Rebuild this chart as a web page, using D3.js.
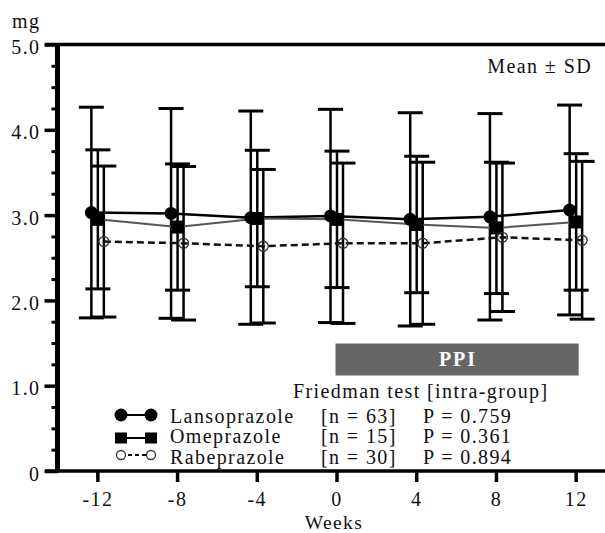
<!DOCTYPE html>
<html><head><meta charset="utf-8">
<script src="https://cdn.jsdelivr.net/npm/d3@7"></script>
<style>
body{margin:0;background:#fff;}
svg text{font-family:"Liberation Serif","Times New Roman",Times,"DejaVu Serif",serif !important;font-size:20px;letter-spacing:1.4px;fill:#111;}
</style></head>
<body><svg id="c" width="605" height="533"></svg>
<script>
const weeks = [-12, -8, -4, 0, 4, 8, 12];
const lansoMean = [3.03, 3.02, 2.97, 2.99, 2.95, 2.98, 3.06];
const lansoSD   = [1.235, 1.23, 1.25, 1.25, 1.25, 1.21, 1.23];
const omeMean   = [2.95, 2.86, 2.96, 2.95, 2.89, 2.85, 2.92];
const omeSD     = [0.815, 0.74, 0.80, 0.80, 0.80, 0.77, 0.80];
const rabeMean  = [2.69, 2.67, 2.635, 2.67, 2.67, 2.74, 2.705];
const rabeSD    = [0.885, 0.90, 0.90, 0.94, 0.95, 0.87, 0.925];
const seriesNames = ["Lansoprazole", "Omeprazole", "Rabeprazole"];
const seriesN = ["[n = 63]", "[n = 15]", "[n = 30]"];
const seriesP = ["P = 0.759", "P = 0.361", "P = 0.894"];
const yTickValues = [0, 1, 2, 3, 4, 5];
const yTickLabels = ["0", "1.0", "2.0", "3.0", "4.0", "5.0"];
const xTickLabels = ["-12", "-8", "-4", "0", "4", "8", "12"];
const ppiRange = [0, 12.15];

const FONT = '"Liberation Serif","Times New Roman",Times,"DejaVu Serif",serif';
const svg = d3.select("#c");
const x = d3.scaleLinear().domain([-14, 14]).range([57.5, 615.5]);
const y = d3.scaleLinear().domain([0, 5]).range([471, 44.5]);

svg.append("line").attr("x1", 45).attr("x2", 605).attr("y1", y(5)).attr("y2", y(5))
  .attr("stroke", "#000").attr("stroke-width", 3.5);

const minor = d3.range(0, 5.001, 0.25).filter(v => Math.abs(v - Math.round(v)) > 0.01);
svg.append("g").attr("transform", `translate(${x(-14)},0)`)
  .call(d3.axisLeft(y).tickValues(minor).tickSize(6).tickFormat(""))
  .call(g => g.select(".domain").remove())
  .call(g => g.selectAll("line").attr("stroke", "#000").attr("stroke-width", 3));

const yAx = svg.append("g").attr("transform", `translate(${x(-14)},0)`)
  .call(d3.axisLeft(y).tickValues(yTickValues).tickSize(13).tickPadding(4)
    .tickFormat((d, i) => yTickLabels[i]));
yAx.attr("font-family", FONT).attr("font-size", 20);
yAx.select(".domain").remove();
yAx.selectAll("line").attr("stroke", "#000").attr("stroke-width", 3.5);
yAx.selectAll("text").attr("dy", "0.45em").attr("fill", "#111");

svg.append("line").attr("x1", x(-14)).attr("x2", x(-14)).attr("y1", y(5) - 1.5).attr("y2", y(0) + 1.5)
  .attr("stroke", "#000").attr("stroke-width", 5);

const xAx = svg.append("g").attr("transform", `translate(0,${y(0)})`)
  .call(d3.axisBottom(x).tickValues(weeks).tickSize(11).tickPadding(10)
    .tickFormat((d, i) => xTickLabels[i]));
xAx.attr("font-family", FONT).attr("font-size", 20);
xAx.select(".domain").remove();
xAx.selectAll("line").attr("stroke", "#000").attr("stroke-width", 3.5);
xAx.selectAll("text").attr("fill", "#111");
svg.append("line").attr("x1", 45).attr("x2", 605).attr("y1", y(0)).attr("y2", y(0))
  .attr("stroke", "#000").attr("stroke-width", 3.5);

svg.append("text").attr("x", 12).attr("y", 28).text("mg");
svg.append("text").attr("x", 334).attr("y", 528.8).attr("text-anchor", "middle")
  .style("font-size", "19.5px").text("Weeks");
svg.append("text").attr("x", 592).attr("y", 73).attr("text-anchor", "end").text("Mean \u00b1 SD");

svg.append("rect").attr("x", x(ppiRange[0]) - 1).attr("y", 343.5)
  .attr("width", x(ppiRange[1]) - x(ppiRange[0]) + 1).attr("height", 32)
  .attr("fill", "#666");
svg.append("text").attr("x", 458).attr("y", 366).attr("text-anchor", "middle")
  .style("font-weight", "bold").style("fill", "#fff").style("letter-spacing", "2px").text("PPI");

const series = [
  {mean: lansoMean, sd: lansoSD, off: -6, line: {stroke: "#000", w: 2.5, dash: null}, mk: "circle"},
  {mean: omeMean, sd: omeSD, off: 0.5, line: {stroke: "#555", w: 2, dash: null}, mk: "square"},
  {mean: rabeMean, sd: rabeSD, off: 6.5, line: {stroke: "#111", w: 2.5, dash: "7,4"}, mk: "open"}
];
const capW = 12.5;
series.forEach(s => {
  const g = svg.append("g");
  weeks.forEach((w, i) => {
    const cx = x(w) + s.off, hi = s.mean[i] + s.sd[i], lo = s.mean[i] - s.sd[i];
    g.append("line").attr("x1", cx).attr("x2", cx).attr("y1", y(hi)).attr("y2", y(lo))
      .attr("stroke", "#000").attr("stroke-width", 2.5);
    [hi, lo].forEach(v => g.append("line").attr("x1", cx - capW).attr("x2", cx + capW)
      .attr("y1", y(v)).attr("y2", y(v)).attr("stroke", "#000").attr("stroke-width", 3));
  });
});
series.forEach(s => {
  const line = d3.line().x((d, i) => x(weeks[i]) + s.off).y(d => y(d));
  svg.append("path").attr("d", line(s.mean)).attr("fill", "none")
    .attr("stroke", s.line.stroke).attr("stroke-width", s.line.w)
    .attr("stroke-dasharray", s.line.dash);
});
function marker(g, type, cx, cy) {
  if (type === "circle") g.append("circle").attr("cx", cx).attr("cy", cy).attr("r", 6.5).attr("fill", "#000");
  else if (type === "square") g.append("rect").attr("x", cx - 6.5).attr("y", cy - 6.5).attr("width", 13).attr("height", 13).attr("fill", "#000");
  else g.append("circle").attr("cx", cx).attr("cy", cy).attr("r", 5).attr("fill", "none").attr("stroke", "#333").attr("stroke-width", 1.3);
}
series.forEach(s => {
  const g = svg.append("g");
  weeks.forEach((w, i) => marker(g, s.mk, x(w) + s.off, y(s.mean[i])));
});

svg.append("text").attr("x", 293).attr("y", 398).text("Friedman test [intra-group]");
const rowY = [422.5, 443, 464];
const symY = [415, 438, 455];
series.forEach((s, i) => {
  const g = svg.append("g");
  g.append("line").attr("x1", 121).attr("x2", 151).attr("y1", symY[i]).attr("y2", symY[i])
    .attr("stroke", "#000").attr("stroke-width", 2).attr("stroke-dasharray", s.line.dash ? "4,3" : null);
  if (s.mk === "circle") { marker(g, "circle", 121, symY[i]); marker(g, "circle", 151, symY[i]); }
  else if (s.mk === "square") {
    [121, 151].forEach(cx => g.append("rect").attr("x", cx - 6).attr("y", symY[i] - 5.5).attr("width", 12).attr("height", 11).attr("fill", "#000"));
  } else {
    [121, 151].forEach(cx => g.append("circle").attr("cx", cx).attr("cy", symY[i]).attr("r", 4.5)
      .attr("fill", "#fff").attr("stroke", "#333").attr("stroke-width", 1.3));
  }
  g.append("text").attr("x", 170).attr("y", rowY[i]).text(seriesNames[i]);
  g.append("text").attr("x", 321).attr("y", rowY[i]).text(seriesN[i]);
  g.append("text").attr("x", 423).attr("y", rowY[i]).text(seriesP[i]);
});
</script></body></html>
